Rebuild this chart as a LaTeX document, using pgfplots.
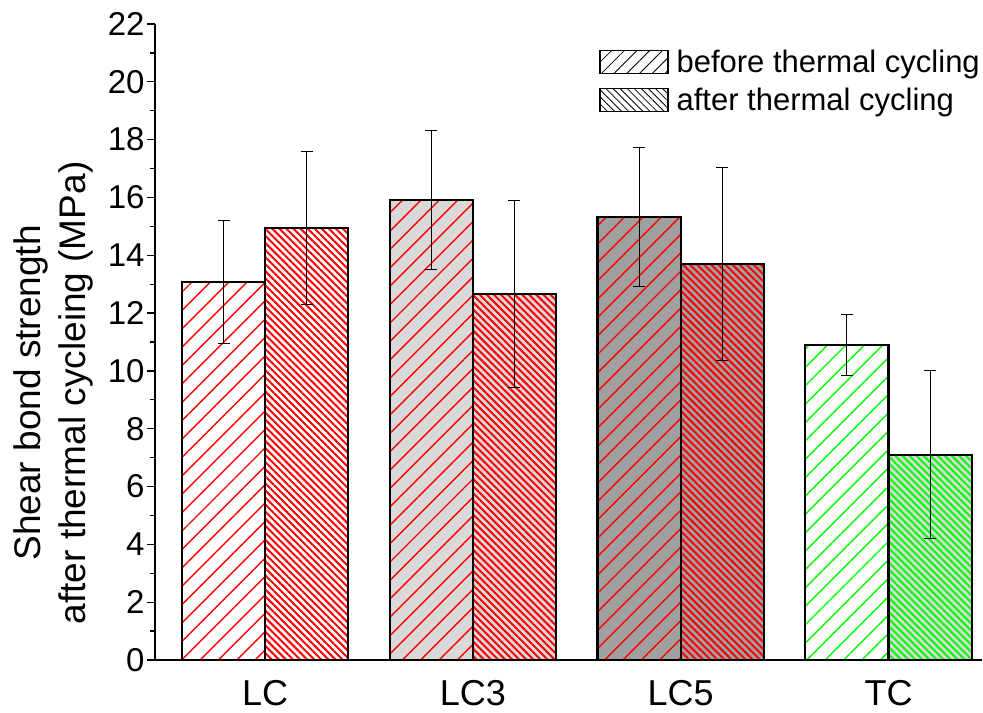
\documentclass[border=0pt]{standalone}
\usepackage{fontspec}
\setmainfont{Liberation Sans}
\usepackage{pgfplots}
\pgfplotsset{compat=1.18}
\usetikzlibrary{patterns.meta}
\definecolor{lg}{HTML}{D9D9D9}
\definecolor{mg}{HTML}{A0A0A0}
\definecolor{gr}{HTML}{00FF00}
\pgfplotsset{
  myerr/.style={draw=none, mark=none, forget plot,
    error bars/y dir=both, error bars/y explicit,
    error bars/error bar style={line width=1.1bp, draw=black},
    error bars/error mark options={draw=black, rotate=90, mark size=6bp, line width=1.1bp},
  },
  fillbar/.style={ybar, bar width=0.4, bar shift=0, draw=none, fill=#1, forget plot},
  befbar/.style={ybar, bar width=0.4, bar shift=0, draw=black, line width=2.2bp, fill=none, forget plot,
     pattern={Lines[angle=45,distance=13bp,line width=1.4bp]}, pattern color=#1},
  aftbar/.style={ybar, bar width=0.4, bar shift=0, draw=black, line width=2.2bp, fill=none, forget plot,
     pattern={Lines[angle=-45,distance=5bp,line width=2bp]}, pattern color=#1},
}
\begin{document}
\begin{tikzpicture}
\begin{axis}[
  scale only axis, width=827bp, height=636bp,
  xmin=-0.53, xmax=3.45, ymin=0, ymax=22,
  axis lines*=left,
  axis line style={-, line width=1.8bp},
  xtick={0,1,2,3}, xticklabels={LC,LC3,LC5,TC},
  major x tick style={draw=none},
  ytick={0,2,...,22}, minor y tick num=1,
  tick align=outside,
  major tick length=8bp, minor tick length=5bp,
  tick style={line width=1.2bp, black},
  /pgf/number format/assume math mode=true,
  yticklabel style={font=\fontsize{33bp}{38bp}\selectfont, xshift=1bp},
  xticklabel style={font=\fontsize{36bp}{42bp}\selectfont, yshift=-9bp},
  ylabel={Shear bond strength\\after thermal cycleing (MPa)},
  ylabel style={align=center, font=\fontsize{37bp}{45bp}\selectfont, at={(axis description cs:-0.123,0.42)}, anchor=center},
  legend style={at={(rel axis cs:1.0,0.962)}, anchor=north east, draw=none, fill=none, inner sep=0pt, row sep=10bp, column sep=6bp, font=\fontsize{31bp}{36bp}\selectfont, nodes={inner sep=2bp}},
  legend cell align=left,
]
\addlegendimage{legend image code/.code={\draw[line width=1.5bp, pattern={Lines[angle=45,distance=9bp,line width=0.8bp]}] (0bp,-11bp) rectangle (68bp,12bp);}}
\addlegendentry{before thermal cycling}
\addlegendimage{legend image code/.code={\draw[line width=1.5bp, pattern={Lines[angle=-45,distance=5bp,line width=0.8bp]}] (0bp,-11bp) rectangle (68bp,12bp);}}
\addlegendentry{after thermal cycling}
% fills
\addplot[fillbar=white] coordinates {(-0.2,13.08)};
\addplot[fillbar=white] coordinates {(0.2,14.95)};
\addplot[fillbar=lg] coordinates {(0.8,15.92)};
\addplot[fillbar=lg] coordinates {(1.2,12.66)};
\addplot[fillbar=mg] coordinates {(1.8,15.33)};
\addplot[fillbar=mg] coordinates {(2.2,13.70)};
\addplot[fillbar=white] coordinates {(2.8,10.90)};
\addplot[fillbar=lg] coordinates {(3.2,7.10)};
% patterns + outlines
\addplot[befbar=red] coordinates {(-0.2,13.08)};
\addplot[aftbar=red] coordinates {(0.2,14.95)};
\addplot[befbar=red] coordinates {(0.8,15.92)};
\addplot[aftbar=red] coordinates {(1.2,12.66)};
\addplot[befbar=red] coordinates {(1.8,15.33)};
\addplot[aftbar=red] coordinates {(2.2,13.70)};
\addplot[befbar=gr] coordinates {(2.8,10.90)};
\addplot[aftbar=gr] coordinates {(3.2,7.10)};
% error bars
\addplot[myerr] coordinates {
  (-0.2,13.08) +- (0,2.12)
  (0.2,14.95) +- (0,2.65)
  (0.8,15.92) +- (0,2.40)
  (1.2,12.66) +- (0,3.23)
  (1.8,15.33) +- (0,2.40)
  (2.2,13.70) +- (0,3.35)
  (2.8,10.90) +- (0,1.05)
  (3.2,7.10) +- (0,2.90)
};
\coordinate (o) at (rel axis cs:0,0);
\end{axis}
\pgfresetboundingbox
\path (o) ++(-155bp,-53bp) rectangle ++(983bp,713bp);
\end{tikzpicture}
\end{document}
